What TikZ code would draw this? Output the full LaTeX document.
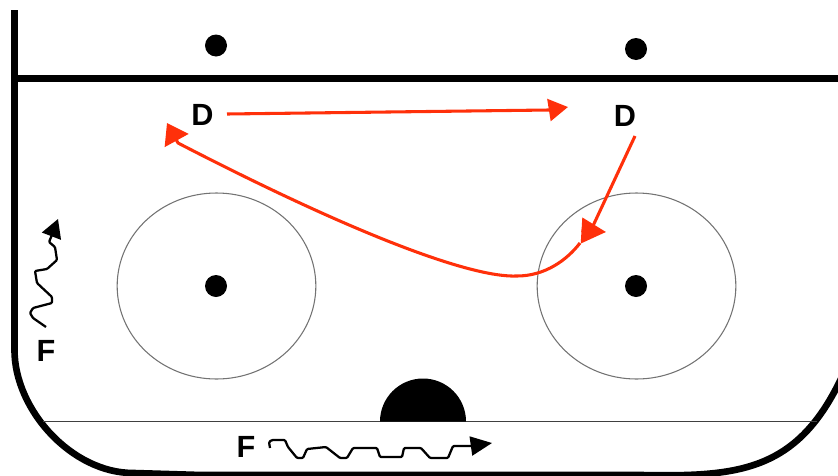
\documentclass[tikz,border=0pt]{standalone}
\usepackage{fontspec}
\setmainfont{Liberation Sans}
\usetikzlibrary{arrows.meta,shapes.geometric}
\definecolor{redline}{RGB}{255,48,10}
\tikzset{
  x=0.75pt,y=-0.75pt,
  board/.style={line width=5pt,black},
  thinline/.style={line width=1.3pt,black!75},
  ring/.style={line width=0.8pt,black!55},
  spot/.style={circle,fill=black,inner sep=0pt,minimum size=16.5pt},
  player/.style={font=\bfseries\fontsize{23}{23}\selectfont,inner sep=0pt,text=black},
  redline style/.style={line width=2.3pt,redline},
  wavy/.style={line width=1.7pt,black,line join=round,rounded corners=0.8pt}
}
\begin{document}
\begin{tikzpicture}
\useasboundingbox (0,0) rectangle (838,475);
\coordinate (bl) at (14.5,10);
\coordinate (tl) at (14.5,78.5);
\coordinate (tr) at (838,78.5);
\coordinate (gl) at (43,421.5);
\coordinate (gr) at (817,421.5);
\draw[board] (bl) -- (14.5,350) .. controls (14.5,410) and (72,473) .. (133,473) -- (200,475) -- (640,475) .. controls (740,477) and (800,472) .. (845,370);
\draw[board] (tl) -- (tr);
\draw[thinline] (gl) -- (gr);
\node[ellipse,draw,ring,minimum width=149pt,minimum height=139.5pt,inner sep=0pt] (c1) at (216.5,286) {};
\node[ellipse,draw,ring,minimum width=149pt,minimum height=139.5pt,inner sep=0pt] (c2) at (636.5,286) {};
\fill[black] (380,421.5) arc[start angle=180,end angle=360,radius=43] -- cycle;
\node[spot] (s1) at (216,45.5) {};
\node[spot] (s2) at (636,49) {};
\node[spot] (s3) at (216,286) {};
\node[spot] (s4) at (636,286) {};
\node[player] (d1) at (202.5,114.5) {D};
\node[player] (d2) at (625,116) {D};
\node[player] (f1) at (46,351) {F};
\node[player] (f2) at (246,447) {F};
\coordinate (a1s) at (227,114);
\coordinate (a1e) at (568,107);
\coordinate (a2s) at (635,136);
\coordinate (a2e) at (606,232);
\coordinate (a3s) at (580,243);
\coordinate (a3e) at (167,123);
\coordinate (w1) at (46,327);
\coordinate (w1e) at (58,219);
\coordinate (w2) at (270,448);
\coordinate (w2e) at (492,443);
\draw[redline style,-{Triangle[length=14.5pt,width=16.5pt]}] (a1s) -- (549,110) -- (a1e);
\draw[redline style] (a2s) -- (592,228);
\draw[redline style,-{Triangle[length=18.4pt,width=19pt]}] (581.5,230.5) -- (a2e);
\draw[redline style,-{Triangle[length=15pt,width=20pt]}] (a3s) .. controls (567,260) and (545,276) .. (517,276) .. controls (470,278) and (350,232) .. (178,143) -- (a3e);
\draw[wavy,-{Triangle[length=13.8pt,width=15pt]}] (w1) -- (33,318) -- (30,313) -- (33,308) -- (52,303) -- (52,297) -- (37,283) -- (35,271) -- (47,269) -- (57,260) -- (55,247) -- (49,242) -- (51.5,236) -- (w1e);
\draw[wavy,-{Triangle[length=16pt,width=14.3pt]}] (w2) -- (269,442) -- (272,440) -- (285,440) -- (288,447) -- (297,458) -- (303,458) -- (307,449) -- (326,447) -- (340,458) -- (347,458) -- (353,448) -- (377,448) -- (380,457) -- (402,457) -- (404,448) -- (421,448) -- (430,458) -- (448,458) -- (453,446) -- (471,446) -- (w2e);
\end{tikzpicture}
\end{document}
